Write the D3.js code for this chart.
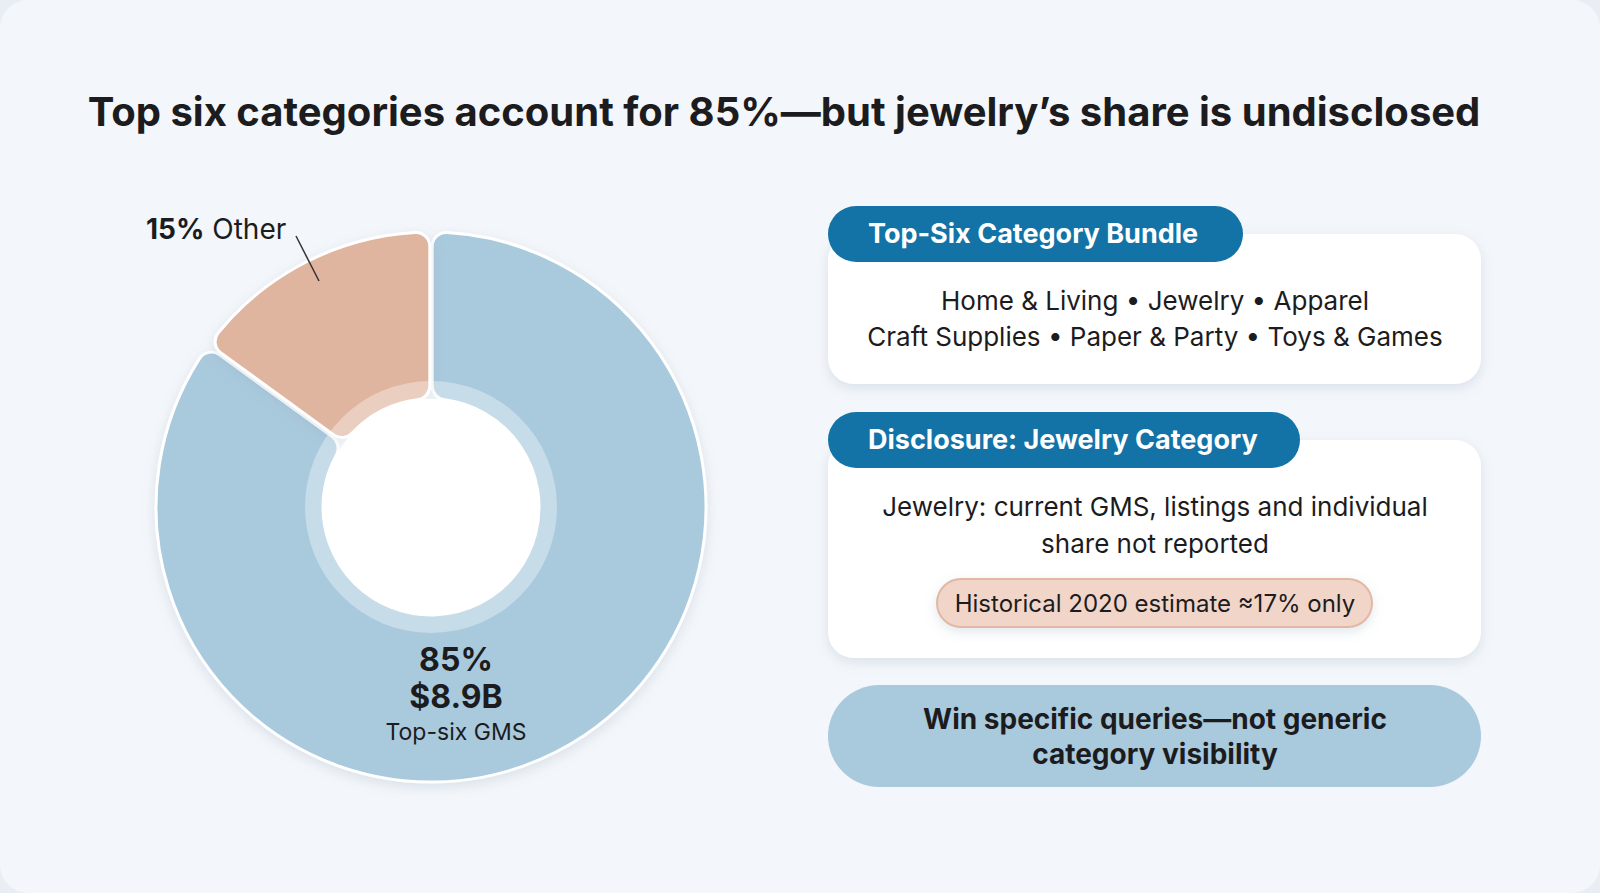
<!DOCTYPE html>
<html><head><meta charset="utf-8">
<script src="https://cdn.jsdelivr.net/npm/d3@7"></script>
<style>
body{margin:0;background:#e9eef4;font-family:Inter,"Noto Sans",sans-serif}
</style></head><body>
<svg id="c" width="1600" height="893"></svg>
<script>
// data
const segNames = ["Top-six GMS", "Other"];
const segShares = [85, 15];
const topValue = "$8.9B";
const bundleLines = ["Home & Living • Jewelry • Apparel", "Craft Supplies • Paper & Party • Toys & Games"];
const disclosureLines = ["Jewelry: current GMS, listings and individual", "share not reported"];
const historicalNote = "Historical 2020 estimate ≈17% only";
const takeawayLines = ["Win specific queries—not generic", "category visibility"];

const svg = d3.select("#c");
const defs = svg.append("defs");
const sh = defs.append("filter").attr("id","sh").attr("x","-20%").attr("y","-20%").attr("width","140%").attr("height","150%");
sh.append("feDropShadow").attr("dx",0).attr("dy",4).attr("stdDeviation",6).attr("flood-color","#8aa0b5").attr("flood-opacity",0.25);

svg.append("rect").attr("x",0).attr("y",0).attr("width",1600).attr("height",893).attr("rx",28).attr("fill","#f3f6fa");

svg.append("text").attr("x",784).attr("y",126).attr("text-anchor","middle")
  .attr("font-size",40).attr("font-weight",700).attr("fill","#1c1c1e")
  .text("Top six categories account for 85%—but jewelry’s share is undisclosed");

// donut
const cx = 431, cy = 507;
const g = svg.append("g").attr("transform",`translate(${cx},${cy})`);
const pie = d3.pie().sort(null).value(d=>d).startAngle(0).endAngle(2*Math.PI);
// order: top-six first (clockwise from 12 o'clock), other last
const arcs = pie(segShares);
const arc = d3.arc().innerRadius(108).outerRadius(275).cornerRadius(14).padAngle(0.008);
const colors = ["#a9c9dd","#dfb5a0"];
g.selectAll("path.seg").data(arcs).enter().append("path")
  .attr("class","seg").attr("d",arc).attr("fill",(d,i)=>colors[i])
  .attr("stroke","#ffffff").attr("stroke-width",3).attr("filter","url(#sh)");
g.append("circle").attr("r",126).attr("fill","#ffffff").attr("opacity",0.35);
g.append("circle").attr("r",108).attr("fill","#ffffff");

// labels
const big = svg.append("text").attr("x",456).attr("text-anchor","middle").attr("fill","#1c1c1e");
big.append("tspan").attr("x",456).attr("y",671).attr("font-size",32).attr("font-weight",700).text(segShares[0]+"%");
big.append("tspan").attr("x",456).attr("y",708).attr("font-size",32).attr("font-weight",700).text(topValue);
big.append("tspan").attr("x",456).attr("y",740).attr("font-size",23).text(segNames[0]);

const ot = svg.append("text").attr("x",146).attr("y",239).attr("font-size",28).attr("fill","#1c1c1e");
ot.append("tspan").attr("font-weight",700).text(segShares[1]+"%");
ot.append("tspan").text(" "+segNames[1]);
svg.append("line").attr("x1",296).attr("y1",236).attr("x2",319).attr("y2",281).attr("stroke","#333").attr("stroke-width",1.5);

// cards
function card(y, h, title, titleW){
  svg.append("rect").attr("x",828).attr("y",y).attr("width",653).attr("height",h).attr("rx",26).attr("fill","#fff").attr("filter","url(#sh)");
  svg.append("rect").attr("x",828).attr("y",y-28).attr("width",titleW).attr("height",56).attr("rx",28).attr("fill","#1373a7");
  svg.append("text").attr("x",868).attr("y",y+9).attr("font-size",27).attr("font-weight",700).attr("fill","#fff").text(title);
}
card(234,150,"Top-Six Category Bundle",415);
card(440,218,"Disclosure: Jewelry Category",472);
const cxText = 1155;
bundleLines.forEach((t,i)=>svg.append("text").attr("x",cxText).attr("y",310+i*36).attr("text-anchor","middle").attr("font-size",26).attr("fill","#1c1c1e").text(t));
disclosureLines.forEach((t,i)=>svg.append("text").attr("x",cxText).attr("y",516+i*37).attr("text-anchor","middle").attr("font-size",26).attr("fill","#1c1c1e").text(t));
svg.append("rect").attr("x",937).attr("y",579).attr("width",435).attr("height",48).attr("rx",24).attr("fill","#f1d5c8").attr("stroke","#e2b8a4").attr("stroke-width",2).attr("filter","url(#sh)");
svg.append("text").attr("x",cxText).attr("y",612).attr("text-anchor","middle").attr("font-size",24).attr("fill","#1c1c1e").text(historicalNote);

svg.append("rect").attr("x",828).attr("y",685).attr("width",653).attr("height",102).attr("rx",51).attr("fill","#a9c9dd");
takeawayLines.forEach((t,i)=>svg.append("text").attr("x",cxText).attr("y",729+i*35).attr("text-anchor","middle").attr("font-size",28).attr("font-weight",700).attr("fill","#1c1c1e").text(t));
</script>
</body></html>
